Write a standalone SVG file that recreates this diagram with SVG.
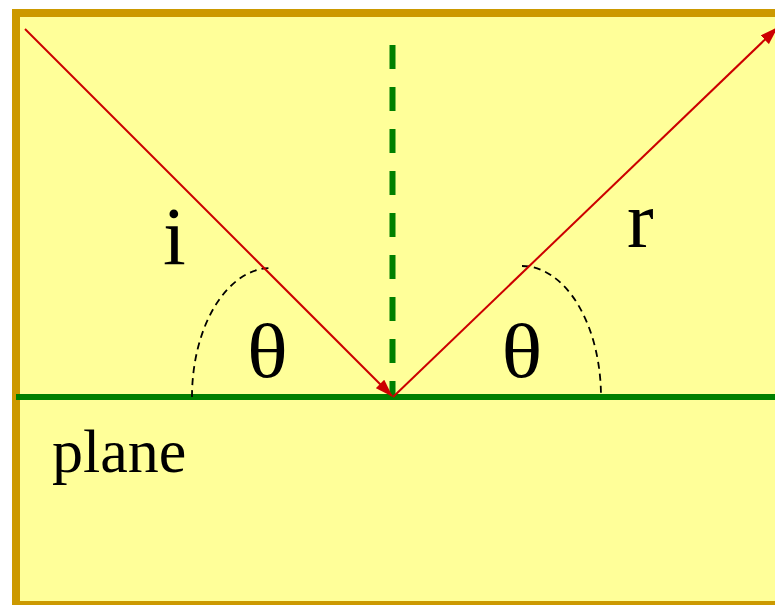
<svg xmlns="http://www.w3.org/2000/svg" width="775" height="605" viewBox="0 0 775 605">
  <style>
    .lbl { font-family: "Liberation Serif", "Times New Roman", serif; fill: #000; }
    .ray { stroke: #CC0000; stroke-width: 2; fill: none; }
    .arc { stroke: #000; stroke-width: 1.8; fill: none; stroke-dasharray: 7 5; }
  </style>
  <defs>
    <marker id="arrow" viewBox="0 0 18 12" refX="17" refY="6" markerWidth="18" markerHeight="12" markerUnits="userSpaceOnUse" orient="auto">
      <path d="M0,0 L18,6 L0,12 Z" fill="#CC0000"/>
    </marker>
  </defs>
  <g id="frame">
    <rect x="16" y="13" width="780" height="592" fill="#FFFF99" stroke="#CC9900" stroke-width="8"/>
  </g>
  <g id="plane">
    <line x1="16" y1="397" x2="775" y2="397" stroke="#008000" stroke-width="6"/>
    <text class="lbl" x="52" y="472" font-size="62">plane</text>
  </g>
  <g id="normal">
    <line x1="392.5" y1="45" x2="392.5" y2="397" stroke="#008000" stroke-width="6" stroke-dasharray="24 18"/>
  </g>
  <g id="angle-i">
    <path class="arc" d="M192,397 A79,129 0 0 1 271,268"/>
    <text class="lbl" x="267.5" y="377" font-size="76" text-anchor="middle" transform="translate(267.5 377) scale(1.12 1) translate(-267.5 -377)">θ</text>
  </g>
  <g id="angle-r">
    <path class="arc" d="M522,266 A79,131 0 0 1 601,397"/>
    <text class="lbl" x="522" y="377" font-size="76" text-anchor="middle" transform="translate(522 377) scale(1.12 1) translate(-522 -377)">θ</text>
  </g>
  <g id="label-i">
    <text class="lbl" x="163" y="264" font-size="82">i</text>
  </g>
  <g id="label-r">
    <text class="lbl" x="627" y="247" font-size="80">r</text>
  </g>
  <g id="connectors">
    <line class="ray" x1="25" y1="29" x2="392" y2="396" marker-end="url(#arrow)"/>
    <line class="ray" x1="393" y1="397" x2="777" y2="28" marker-end="url(#arrow)"/>
  </g>
</svg>
